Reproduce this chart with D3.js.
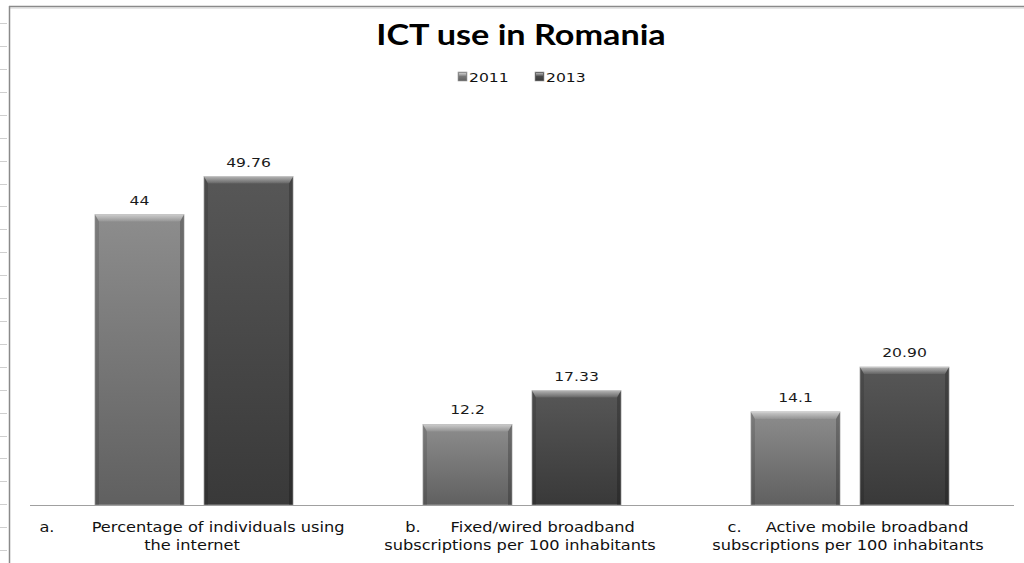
<!DOCTYPE html>
<html><head><meta charset="utf-8">
<script src="https://cdn.jsdelivr.net/npm/d3@7"></script>
<style>html,body{margin:0;padding:0;background:#fff;overflow:hidden}</style>
</head><body><svg id="chart" width="1024" height="563"></svg>
<script>
// ---------- data ----------
const title = "ICT use in Romania";
const categoryKeys = ["a", "b", "c"];
const categoryPrefixes = ["a.", "b.", "c."];
const categoryLine1 = ["Percentage of individuals using", "Fixed/wired broadband", "Active mobile broadband"];
const categoryLine2 = ["the internet", "subscriptions per 100 inhabitants", "subscriptions per 100 inhabitants"];
const seriesNames = ["2011", "2013"];
const values2011 = [44, 12.2, 14.1];
const values2013 = [49.76, 17.33, 20.90];
const labels2011 = ["44", "12.2", "14.1"];
const labels2013 = ["49.76", "17.33", "20.90"];

// ---------- layout ----------
const W = 1024, H = 563;
const plot = {left: 30, right: 1014, top: 109, bottom: 505};
const stretch = 1.2;           // horizontal stretch of the text in the original
const prefixGaps = [31, 25, 20]; // tab gap after "a." "b." "c."
const font = "'DejaVu Sans', Verdana, sans-serif";

const seriesStyle = {
  "2011": {top: "#8d8d8d", bottom: "#606060"},
  "2013": {top: "#575757", bottom: "#393939"}
};

const svg = d3.select("#chart");
const defs = svg.append("defs");

seriesNames.forEach(s => {
  const g = defs.append("linearGradient").attr("id", "body" + s)
    .attr("x1", 0).attr("y1", 0).attr("x2", 0).attr("y2", 1);
  g.append("stop").attr("offset", "0%").attr("stop-color", seriesStyle[s].top);
  g.append("stop").attr("offset", "100%").attr("stop-color", seriesStyle[s].bottom);
});
const bev = defs.append("linearGradient").attr("id", "bevelTop")
  .attr("x1", 0).attr("y1", 0).attr("x2", 0).attr("y2", 1);
bev.append("stop").attr("offset", "0%").attr("stop-color", "#fff").attr("stop-opacity", 0.55);
bev.append("stop").attr("offset", "100%").attr("stop-color", "#fff").attr("stop-opacity", 0.08);

// frame + ruler ticks (page artefacts in the original)
const ruler = d3.scaleLinear().domain([0, 23]).range([23.3, 550]);
svg.append("g").selectAll("line").data(d3.range(24)).join("line")
  .attr("x1", 0).attr("x2", 7)
  .attr("y1", d => Math.round(ruler(d)) + 0.5).attr("y2", d => Math.round(ruler(d)) + 0.5)
  .attr("stroke", "#cfcfcf").attr("stroke-width", 1);
svg.append("line").attr("x1", 9).attr("x2", W).attr("y1", 6.5).attr("y2", 6.5)
  .attr("stroke", "#8a8a8a").attr("stroke-width", 1.5);
svg.append("line").attr("x1", 9).attr("x2", W).attr("y1", 8).attr("y2", 8)
  .attr("stroke", "#d0d0d0").attr("stroke-width", 1);
svg.append("line").attr("x1", 9.5).attr("x2", 9.5).attr("y1", 6).attr("y2", H)
  .attr("stroke", "#8a8a8a").attr("stroke-width", 1.5);

// ---------- scales ----------
const x0 = d3.scaleBand().domain(categoryKeys).range([plot.left, plot.right]).paddingInner(0).paddingOuter(0);
const x1 = d3.scaleBand().domain(seriesNames).range([0, x0.bandwidth()]).paddingInner(0.1835).paddingOuter(0.596);
const y = d3.scaleLinear().domain([0, 60]).range([plot.bottom, plot.top]);

// ---------- title ----------
svg.append("text")
  .attr("transform", `translate(${W / 2 + 9},45) scale(${stretch},1)`)
  .attr("text-anchor", "middle")
  .attr("font-family", "Lato, 'Open Sans', sans-serif").attr("font-weight", 700).attr("font-size", 28.5)
  .attr("fill", "#000").text(title);

// ---------- legend ----------
const legendX = d3.scaleOrdinal().domain(seriesNames).range([458, 535]);
const lg = svg.append("g").selectAll("g").data(seriesNames).join("g")
  .attr("transform", d => `translate(${legendX(d)},72)`);
lg.append("rect").attr("width", 9).attr("height", 9)
  .attr("fill", d => `url(#body${d})`).attr("stroke", "#9a9a9a").attr("stroke-width", 0.6);
lg.append("rect").attr("x", 1).attr("y", 1).attr("width", 7).attr("height", 3).attr("fill", "url(#bevelTop)");
lg.append("text").attr("transform", `translate(11,9.5) scale(${stretch},1)`)
  .attr("font-family", font).attr("font-size", 13).attr("fill", "#111").text(d => d);

// ---------- bars ----------
const rows = categoryKeys.map((k, i) => ({
  key: k,
  items: [
    {series: "2011", value: values2011[i], label: labels2011[i]},
    {series: "2013", value: values2013[i], label: labels2013[i]}
  ]
}));

const groups = svg.append("g").selectAll("g").data(rows).join("g")
  .attr("transform", d => `translate(${x0(d.key)},0)`);

const bars = groups.selectAll("g.bar").data(d => d.items).join("g").attr("class", "bar");
const bw = x1.bandwidth(), bx = 4, bt = 7;

bars.append("rect")
  .attr("x", d => x1(d.series)).attr("y", d => y(d.value))
  .attr("width", bw).attr("height", d => y(0) - y(d.value))
  .attr("fill", d => `url(#body${d.series})`)
  .attr("stroke", "#a8a8a8").attr("stroke-width", 0.8);
// left bevel
bars.append("path").attr("d", d => {
  const x = x1(d.series), t = y(d.value), b = y(0);
  return `M${x},${t}L${x + bx},${t + bt}L${x + bx},${b}L${x},${b}Z`;
}).attr("fill", "#000").attr("fill-opacity", 0.12);
// right bevel
bars.append("path").attr("d", d => {
  const x = x1(d.series) + bw, t = y(d.value), b = y(0);
  return `M${x},${t}L${x - bx},${t + bt}L${x - bx},${b}L${x},${b}Z`;
}).attr("fill", "#000").attr("fill-opacity", 0.22);
// top bevel
bars.append("path").attr("d", d => {
  const x = x1(d.series), t = y(d.value);
  return `M${x},${t}L${x + bw},${t}L${x + bw - bx},${t + bt}L${x + bx},${t + bt}Z`;
}).attr("fill", "url(#bevelTop)");

// value labels
bars.append("text")
  .attr("transform", d => `translate(${x1(d.series) + bw / 2},${y(d.value) - 10}) scale(${stretch},1)`)
  .attr("text-anchor", "middle")
  .attr("font-family", font).attr("font-size", 13).attr("fill", "#1a1a1a")
  .text(d => d.label);

// ---------- baseline ----------
svg.append("line").attr("x1", plot.left).attr("x2", plot.right)
  .attr("y1", y(0) + 0.5).attr("y2", y(0) + 0.5)
  .attr("stroke", "#a0a0a0").attr("stroke-width", 1);

// ---------- category labels ----------
const cat = svg.append("g").selectAll("g").data(categoryKeys).join("g")
  .attr("transform", d => `translate(${x0(d) + x0.bandwidth() / 2},0)`);
const t1 = cat.append("text")
  .attr("transform", `translate(-2,532) scale(${stretch},1)`)
  .attr("text-anchor", "middle")
  .attr("font-family", font).attr("font-size", 13.5).attr("fill", "#111");
t1.append("tspan").text((d, i) => categoryPrefixes[i]);
t1.append("tspan").attr("dx", (d, i) => prefixGaps[i]).text((d, i) => categoryLine1[i]);
cat.append("text")
  .attr("transform", `translate(-2,550) scale(${stretch},1)`)
  .attr("text-anchor", "middle")
  .attr("font-family", font).attr("font-size", 13.5).attr("fill", "#111")
  .text((d, i) => categoryLine2[i]);
</script>
</body></html>
